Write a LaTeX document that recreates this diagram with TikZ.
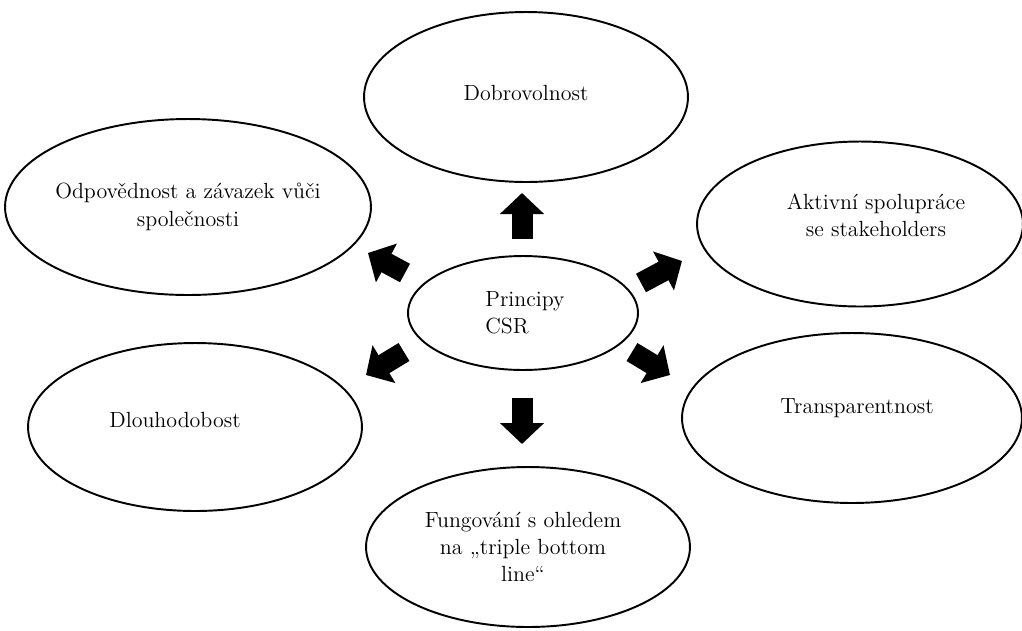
\documentclass[tikz,border=0pt]{standalone}
\usetikzlibrary{shapes.geometric,arrows.meta}
\tikzset{
  principle/.style={ellipse, draw, line width=1.1pt, inner sep=0pt},
  principletext/.style={align=center, inner sep=0pt, font=\fontsize{12.5}{15.5}\selectfont},
  blockarrow/.style={line width=0.42cm, -{Triangle[width=0.86cm,length=0.42cm]}},
}
\begin{document}
\begin{tikzpicture}[x=0.02cm,y=-0.02cm]
      \useasboundingbox (0,0) rectangle (1022,630);
      \draw
        (523,313) node[principle, minimum width=4.6cm, minimum height=2.28cm,
          label={[principletext, align=left, xshift=0.04cm]center:Principy\\CSR}] (csr){}
        (526,97) node[principle, minimum width=6.48cm, minimum height=3.4cm,
          label={[principletext, yshift=0.08cm]center:Dobrovolnost}] (dobro){}
        (188,207) node[principle, minimum width=7.32cm, minimum height=3.52cm,
          label={[principletext]center:Odpovědnost a závazek vůči\\společnosti}] (odp){}
        (860,224) node[principle, minimum width=6.52cm, minimum height=3.3cm,
          label={[principletext, xshift=0.32cm, yshift=0.18cm]center:Aktivní spolupráce\\se stakeholders}] (aktiv){}
        (195,427) node[principle, minimum width=6.68cm, minimum height=3.36cm,
          label={[principletext, xshift=-0.4cm, yshift=0.14cm]center:Dlouhodobost}] (dlouh){}
        (852,418) node[principle, minimum width=6.8cm, minimum height=3.4cm,
          label={[principletext, xshift=0.1cm, yshift=0.2cm]center:Transparentnost}] (transp){}
        (528,547) node[principle, minimum width=6.48cm, minimum height=3.2cm,
          label={[principletext, xshift=-0.1cm]center:Fungování s ohledem\\na „triple bottom\\line“}] (fung){};
      \coordinate (upS) at (522,239);
      \coordinate (upE) at (522,193);
      \coordinate (downS) at (522,398);
      \coordinate (downE) at (522,444);
      \coordinate (ulS) at (405,273);
      \coordinate (ulE) at (368,253);
      \coordinate (urS) at (641,283);
      \coordinate (urE) at (682,261);
      \coordinate (llS) at (404,352);
      \coordinate (llE) at (366,375);
      \coordinate (lrS) at (632,352);
      \coordinate (lrE) at (670,375);
      \begin{scope}[blockarrow]
        \draw (upS) to (upE);
        \draw (downS) to (downE);
        \draw (ulS) to (ulE);
        \draw (urS) to (urE);
        \draw (llS) to (llE);
        \draw (lrS) to (lrE);
      \end{scope}
    \end{tikzpicture}
\end{document}
